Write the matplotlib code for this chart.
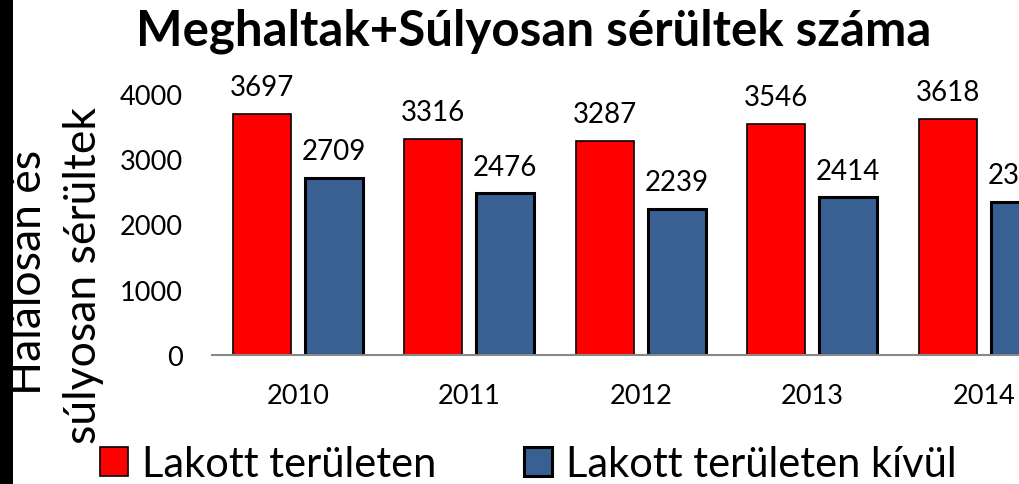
import matplotlib
matplotlib.use("Agg")
import matplotlib.pyplot as plt
import numpy as np
from matplotlib.patches import Rectangle

years = ["2010", "2011", "2012", "2013", "2014"]
lakott = [3697, 3316, 3287, 3546, 3618]
kivul = [2709, 2476, 2239, 2414, 2340]
series_names = ["Lakott területen", "Lakott területen kívül"]
title = "Meghaltak+Súlyosan sérültek száma"
ylabel_lines = ["Halálosan és", "súlyosan sérültek"]
yticks = [0, 1000, 2000, 3000, 4000]

FONT = ["Lato", "DejaVu Sans"]
plt.rcParams["font.family"] = FONT

W, H = 1019, 485
fig = plt.figure(figsize=(W / 100, H / 100), dpi=100)
fig.patch.set_facecolor("white")
fig.patches.append(Rectangle((0, 0), 13 / W, 1, transform=fig.transFigure,
                             facecolor="black", edgecolor="none", zorder=0))

ax = fig.add_axes([212 / W, 1 - 356 / H, 1 - 212 / W, (356 - 95) / H])
x = np.arange(len(years))
bw = 0.338
off = 0.21
b1 = ax.bar(x - off, lakott, bw, color="#FF0000", edgecolor="black", linewidth=1.2,
            label=series_names[0], zorder=3)
b2 = ax.bar(x + off, kivul, bw, color="#386092", edgecolor="black", linewidth=2.2,
            label=series_names[1], zorder=3)

for bars in (b1, b2):
    for r in bars:
        ax.annotate(f"{int(r.get_height())}", (r.get_x() + r.get_width() / 2, r.get_height()),
                    xytext=(0, 10), textcoords="offset points", ha="center", va="bottom",
                    fontsize=20, color="black", annotation_clip=False)

ax.set_xlim(-0.5, -0.5 + (W - 212) / 171.5)
ax.set_ylim(0, 4000)
ax.set_yticks(yticks)
ax.set_yticklabels([str(v) for v in yticks], fontsize=19.5)
ax.set_xticks(x)
ax.set_xticklabels(years, fontsize=19.5)
ax.tick_params(axis="y", length=0, pad=21)
ax.tick_params(axis="x", length=0, pad=20)
for s in ["top", "right", "left"]:
    ax.spines[s].set_visible(False)
ax.spines["bottom"].set_color("#888888")
ax.spines["bottom"].set_linewidth(1.5)
ax.spines["bottom"].set_zorder(4)

fig.text(534 / W, 1 - 31 / H, title, ha="center", va="center", fontsize=35.5,
         fontweight="bold")
fig.text(29 / W, 1 - 272 / H, ylabel_lines[0], rotation=90, ha="center", va="center",
         fontsize=32)
fig.text(84 / W, 1 - 275 / H, ylabel_lines[1], rotation=90, ha="center", va="center",
         fontsize=32)

fig.legend(handles=[b1, b2], labels=series_names, loc="center left",
           bbox_to_anchor=(100 / W, 1 - 465 / H), ncol=2, frameon=False, fontsize=30,
           handlelength=0.68, handleheight=0.68, handletextpad=0.33, columnspacing=2.1,
           borderpad=0, borderaxespad=0)

fig.savefig("out.png", dpi=100)
